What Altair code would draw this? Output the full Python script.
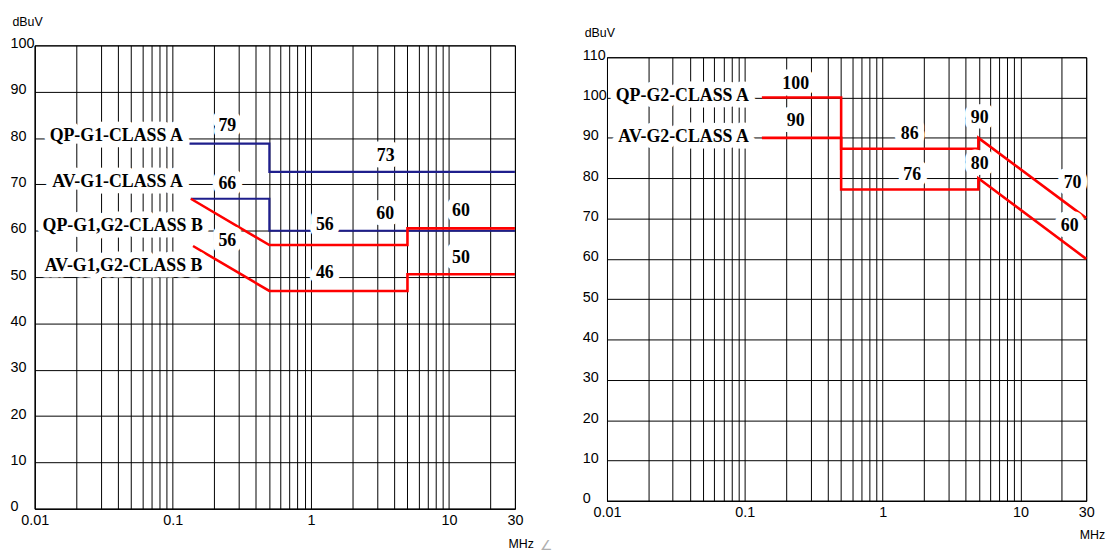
import altair as alt
import pandas as pd

# ---------------- left panel: G1 class A / G1,G2 class B ----------------
qp_g1_a_f = [0.132, 0.5, 0.5, 30]
qp_g1_a_db = [78.8, 78.8, 72.7, 72.7]
av_g1_a_f = [0.135, 0.5, 0.5, 30]
av_g1_a_db = [66.9, 66.9, 60.0, 60.0]
qp_b_f = [0.135, 0.5, 5, 5, 30]
qp_b_db = [66.9, 56.9, 56.9, 60.5, 60.5]
av_b_f = [0.14, 0.5, 5, 5, 30]
av_b_db = [56.7, 47.0, 47.0, 50.6, 50.6]

left_names = ["QP-G1-CLASS A", "AV-G1-CLASS A", "QP-G1,G2-CLASS B", "AV-G1,G2-CLASS B"]
left_name_f = [0.118, 0.118, 0.165, 0.164]
left_name_db = [80.4, 70.4, 61.1, 52.3]
left_vals = ["79", "66", "56", "56", "46", "73", "60", "60", "50"]
left_val_f = [0.248, 0.248, 0.248, 1.26, 1.26, 3.48, 3.45, 12.2, 12.2]
left_val_db = [82.5, 70.1, 57.7, 61.3, 50.8, 76.1, 63.5, 64.3, 54.0]

# ---------------- right panel: G2 class A ----------------
qp_g2_a_f = [0.133, 0.5, 0.5, 4.95, 4.95, 30]
qp_g2_a_db = [100, 100, 87.3, 87.3, 90, 70.1]
av_g2_a_f = [0.133, 0.5, 0.5, 4.95, 4.95, 30]
av_g2_a_db = [90, 90, 77.2, 77.2, 80, 60]

right_names = ["QP-G2-CLASS A", "AV-G2-CLASS A"]
right_name_f = [0.107, 0.107]
right_name_db = [100.4, 90.2]
right_vals = ["100", "90", "86", "76", "90", "80", "70", "60"]
right_val_f = [0.234, 0.234, 1.57, 1.64, 5.06, 5.06, 23.9, 22.8]
right_val_db = [103.3, 94.1, 91.0, 80.9, 94.8, 83.4, 78.9, 68.1]

# ---------------- axes ----------------
x_grid = [0.01, 0.02, 0.03, 0.04, 0.05, 0.06, 0.07, 0.08, 0.09,
          0.1, 0.2, 0.3, 0.4, 0.5, 0.6, 0.7, 0.8, 0.9,
          1, 2, 3, 4, 5, 6, 7, 8, 9,
          10, 20, 30]
x_labels = [0.01, 0.1, 1, 10, 30]
left_y_ticks = list(range(0, 101, 10))
right_y_ticks = list(range(0, 111, 10))
stray = ["∠"]

SANS = "Liberation Sans, Arial, sans-serif"
SERIF = "Liberation Serif, DejaVu Serif, serif"
BLUE = "#1e1e8c"
RED = "#ff0000"

label_expr = ("indexof([" + ",".join(str(v) for v in x_labels) +
              "], datum.value) >= 0 ? format(datum.value, '~g') : ''")


def line_df(f, db):
    return pd.DataFrame({"f": f, "db": db, "idx": list(range(len(f)))})


def make_panel(width, height, ymax, yticks, blue_lines, red_lines,
               names, name_f, name_db, vals, val_f, val_db,
               ytitle_x, ytitle_y, xtitle_y, with_stray):
    x_enc = alt.X("f:Q",
                  scale=alt.Scale(type="log", domain=[0.01, 30], nice=False),
                  axis=alt.Axis(values=x_grid, labelExpr=label_expr,
                                title="MHz", titleAlign="left",
                                titleBaseline="top", titleX=width - 7,
                                titleY=xtitle_y, labelPadding=5))
    y_enc = alt.Y("db:Q",
                  scale=alt.Scale(domain=[0, ymax], nice=False),
                  axis=alt.Axis(values=yticks, title="dBuV", titleAngle=0,
                                titleAlign="left", titleBaseline="top",
                                titleX=ytitle_x, titleY=ytitle_y,
                                labelAlign="left", labelPadding=25,
                                labelBaseline="middle", labelOffset=-2))
    layers = []
    for df in blue_lines:
        layers.append(alt.Chart(df).mark_line(color=BLUE, strokeWidth=2.2)
                      .encode(x=x_enc, y=y_enc, order="idx:Q"))
    for df in red_lines:
        layers.append(alt.Chart(df).mark_line(color=RED, strokeWidth=2.6)
                      .encode(x=x_enc, y=y_enc, order="idx:Q"))
    ndf = pd.DataFrame({"f": name_f, "db": name_db, "t": names})
    vdf = pd.DataFrame({"f": val_f, "db": val_db, "t": vals})
    txt = dict(font=SERIF, fontSize=18, fontWeight="bold", baseline="middle")
    halo = dict(color="white", stroke="white", strokeWidth=13, strokeJoin="round")
    layers.append(alt.Chart(ndf).mark_text(align="right", **txt, **halo)
                  .encode(x=x_enc, y=y_enc, text="t:N"))
    layers.append(alt.Chart(vdf).mark_text(align="center", **txt, **halo)
                  .encode(x=x_enc, y=y_enc, text="t:N"))
    layers.append(alt.Chart(ndf).mark_text(align="right", color="black", **txt)
                  .encode(x=x_enc, y=y_enc, text="t:N"))
    layers.append(alt.Chart(vdf).mark_text(align="center", color="black", **txt)
                  .encode(x=x_enc, y=y_enc, text="t:N"))
    if with_stray:
        sdf = pd.DataFrame({"t": stray})
        layers.append(alt.Chart(sdf).mark_text(color="#b0b0b0", fontSize=14,
                                               align="right", dx=38, dy=38,
                                               font="DejaVu Sans")
                      .encode(x=alt.datum(30), y=alt.datum(0), text="t:N"))
    return alt.layer(*layers).properties(width=width, height=height)


left = make_panel(
    485, 468, 100, left_y_ticks,
    [line_df(qp_g1_a_f, qp_g1_a_db), line_df(av_g1_a_f, av_g1_a_db)],
    [line_df(qp_b_f, qp_b_db), line_df(av_b_f, av_b_db)],
    left_names, left_name_f, left_name_db, left_vals, left_val_f, left_val_db,
    -23, -30, 29, True)

right = make_panel(
    484, 448, 110, right_y_ticks,
    [],
    [line_df(qp_g2_a_f, qp_g2_a_db), line_df(av_g2_a_f, av_g2_a_db)],
    right_names, right_name_f, right_name_db, right_vals, right_val_f, right_val_db,
    -23, -31, 28, False)


def spacer(h):
    # invisible block used only to set the vertical offset of a panel
    return (alt.Chart(pd.DataFrame({"a": [0]}))
            .mark_point(opacity=0, size=0)
            .encode(x=alt.value(0), y=alt.value(0))
            .properties(width=100, height=h,
                        view=alt.ViewBackground(stroke="transparent")))


left_col = alt.vconcat(spacer(1), left, spacing=0)
right_col = alt.vconcat(spacer(12), right, spacing=0)

chart = (alt.hconcat(left_col, right_col, spacing=28)
         .properties(padding={"left": 1, "top": 1, "right": 0, "bottom": 0})
         .configure_view(stroke="black", strokeWidth=1)
         .configure_axis(domainColor="black", domainWidth=1,
                         gridColor="black", gridWidth=1, gridOpacity=1,
                         ticks=False, tickSize=0,
                         labelFont=SANS, labelFontSize=14.5, labelColor="black",
                         titleFont=SANS, titleFontSize=12.5,
                         titleFontWeight="normal", titleColor="black",
                         labelFlush=False, labelOverlap=False))

chart.save("out.html", embed_options={"renderer": "svg", "actions": False})
